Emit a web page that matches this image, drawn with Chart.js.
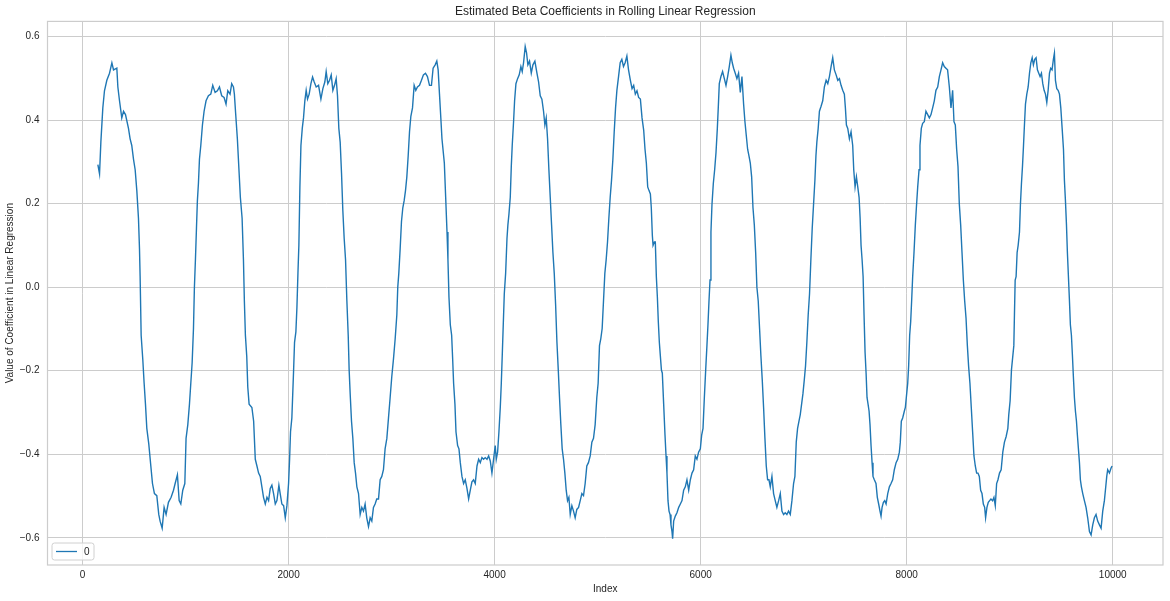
<!DOCTYPE html>
<html>
<head>
<meta charset="utf-8">
<script src="https://cdn.jsdelivr.net/npm/chart.js@4.4.0/dist/chart.umd.min.js"></script>
<style>
  html, body { margin: 0; padding: 0; background: #fff; }
  #wrap { width: 1170px; height: 601px; }
</style>
</head>
<body>
<div id="wrap"><canvas id="beta-chart" width="1170" height="601"></canvas></div>
<script>
// x positions (row index) of the rolling window
const stepIndex = [
  149, 165, 178, 197, 213, 236, 262, 285, 301, 333, 343, 359, 381, 398, 417, 446, 462, 478, 495, 511,
  527, 543, 553, 559, 569, 585, 598, 611, 624, 643, 663, 679, 698, 721, 740, 753, 773, 792, 811, 834,
  860, 883, 899, 921, 938, 954, 973, 993, 1005, 1022, 1038, 1051, 1064, 1077, 1086, 1096, 1106, 1115, 1125, 1135,
  1148, 1164, 1180, 1199, 1222, 1245, 1264, 1287, 1309, 1329, 1351, 1374, 1393, 1410, 1432, 1448, 1465, 1474, 1487, 1503,
  1520, 1532, 1549, 1562, 1571, 1581, 1594, 1604, 1617, 1644, 1661, 1677, 1693, 1709, 1725, 1741, 1757, 1774, 1790, 1806,
  1822, 1838, 1855, 1871, 1887, 1906, 1919, 1935, 1952, 1968, 1984, 2000, 2010, 2019, 2032, 2049, 2058, 2071, 2081, 2091,
  2100, 2110, 2120, 2133, 2145, 2158, 2171, 2184, 2200, 2217, 2233, 2249, 2268, 2291, 2314, 2333, 2352, 2365, 2381, 2398,
  2414, 2430, 2446, 2462, 2475, 2488, 2501, 2514, 2527, 2540, 2553, 2566, 2579, 2588, 2598, 2611, 2624, 2637, 2650, 2663,
  2679, 2695, 2711, 2727, 2743, 2759, 2776, 2792, 2808, 2824, 2840, 2856, 2873, 2889, 2905, 2921, 2937, 2954, 2970, 2986,
  3002, 3018, 3035, 3051, 3060, 3070, 3083, 3096, 3109, 3122, 3135, 3148, 3161, 3174, 3187, 3203, 3219, 3235, 3251, 3271,
  3290, 3309, 3329, 3348, 3368, 3387, 3403, 3423, 3439, 3452, 3465, 3478, 3489, 3512, 3525, 3538, 3547, 3557, 3570, 3583,
  3593, 3602, 3615, 3625, 3641, 3654, 3667, 3683, 3699, 3715, 3732, 3748, 3764, 3780, 3796, 3812, 3829, 3845, 3861, 3877,
  3893, 3909, 3926, 3942, 3958, 3974, 3990, 4006, 4016, 4029, 4042, 4055, 4065, 4074, 4084, 4094, 4107, 4120, 4129, 4139,
  4152, 4162, 4171, 4184, 4194, 4207, 4223, 4239, 4255, 4268, 4281, 4297, 4310, 4323, 4339, 4356, 4372, 4391, 4411, 4427,
  4443, 4459, 4475, 4488, 4501, 4514, 4527, 4540, 4553, 4566, 4579, 4592, 4605, 4618, 4630, 4643, 4656, 4669, 4682, 4695,
  4708, 4721, 4734, 4750, 4766, 4782, 4798, 4815, 4831, 4847, 4863, 4879, 4895, 4911, 4928, 4944, 4960, 4976, 4992, 5005,
  5018, 5031, 5044, 5057, 5070, 5083, 5096, 5109, 5122, 5135, 5148, 5161, 5174, 5187, 5203, 5219, 5235, 5251, 5267, 5284,
  5300, 5318, 5334, 5350, 5366, 5382, 5398, 5415, 5431, 5447, 5460, 5473, 5486, 5499, 5512, 5521, 5531, 5538, 5551, 5560,
  5570, 5580, 5589, 5599, 5609, 5619, 5628, 5641, 5654, 5664, 5673, 5683, 5693, 5703, 5712, 5722, 5728, 5738, 5754, 5770,
  5787, 5803, 5819, 5835, 5851, 5867, 5884, 5900, 5916, 5932, 5948, 5964, 5980, 5997, 6010, 6023, 6036, 6049, 6061, 6071,
  6081, 6091, 6100, 6110, 6123, 6136, 6149, 6162, 6171, 6181, 6197, 6213, 6230, 6246, 6262, 6278, 6294, 6307, 6320, 6336,
  6352, 6368, 6385, 6401, 6417, 6430, 6443, 6456, 6469, 6482, 6495, 6508, 6521, 6534, 6546, 6559, 6572, 6585, 6598, 6611,
  6624, 6637, 6650, 6663, 6676, 6692, 6708, 6724, 6740, 6757, 6773, 6789, 6805, 6821, 6837, 6853, 6870, 6886, 6902, 6915,
  6928, 6941, 6954, 6967, 6980, 6993, 7006, 7018, 7031, 7044, 7057, 7070, 7083, 7096, 7109, 7119, 7128, 7141, 7153, 7169,
  7185, 7201, 7218, 7234, 7250, 7266, 7282, 7298, 7315, 7331, 7347, 7363, 7379, 7395, 7405, 7415, 7428, 7444, 7460, 7476,
  7486, 7499, 7512, 7525, 7538, 7548, 7557, 7567, 7577, 7586, 7596, 7606, 7615, 7625, 7635, 7644, 7654, 7664, 7673, 7686,
  7702, 7715, 7728, 7741, 7751, 7761, 7774, 7787, 7800, 7816, 7832, 7848, 7864, 7880, 7897, 7913, 7929, 7938, 7948, 7961,
  7977, 7987, 8000, 8010, 8019, 8029, 8039, 8048, 8058, 8071, 8084, 8094, 8107, 8120, 8129, 8142, 8155, 8171, 8187, 8204,
  8220, 8236, 8252, 8268, 8284, 8301, 8317, 8333, 8349, 8365, 8381, 8397, 8414, 8430, 8446, 8459, 8472, 8485, 8498, 8511,
  8524, 8537, 8550, 8563, 8576, 8589, 8601, 8614, 8627, 8640, 8653, 8666, 8679, 8692, 8705, 8718, 8731, 8744, 8757, 8766,
  8779, 8792, 8805, 8818, 8834, 8847, 8860, 8873, 8886, 8901, 8917, 8933, 8949, 8965, 8982, 8991, 9004, 9017, 9030, 9040,
  9046, 9053, 9062, 9072, 9082, 9095, 9104, 9114, 9124, 9134, 9143, 9153, 9166, 9179, 9192, 9205, 9218, 9230, 9243, 9256,
  9269, 9282, 9295, 9308, 9321, 9334, 9347, 9360, 9373, 9386, 9398, 9411, 9424, 9434, 9444, 9457, 9470, 9483, 9496, 9509,
  9522, 9531, 9541, 9551, 9560, 9570, 9580, 9589, 9599, 9609, 9618, 9628, 9638, 9648, 9657, 9667, 9677, 9686, 9696, 9709,
  9725, 9741, 9757, 9774, 9790, 9806, 9822, 9838, 9854, 9871, 9887, 9903, 9919, 9929, 9942, 9951, 9968, 9984, 9994
];

// estimated beta coefficient at each of those rows
const betaValues = [
  0.293, 0.271, 0.347, 0.429, 0.470, 0.495, 0.512, 0.537, 0.520, 0.524, 0.479, 0.446, 0.405, 0.421, 0.413, 0.380, 0.355, 0.339, 0.306, 0.281,
  0.231, 0.165, 0.091, 0.026, -0.115, -0.173, -0.230, -0.280, -0.338, -0.375, -0.428, -0.470, -0.494, -0.499, -0.544, -0.560, -0.577, -0.527, -0.544, -0.515,
  -0.503, -0.486, -0.470, -0.449, -0.511, -0.519, -0.486, -0.470, -0.362, -0.329, -0.280, -0.230, -0.181, -0.099, 0.000, 0.066, 0.141, 0.207, 0.248, 0.306,
  0.339, 0.388, 0.421, 0.446, 0.458, 0.462, 0.483, 0.466, 0.470, 0.479, 0.458, 0.454, 0.438, 0.470, 0.462, 0.487, 0.479, 0.462, 0.413, 0.355,
  0.273, 0.215, 0.165, 0.066, -0.033, -0.115, -0.165, -0.239, -0.280, -0.288, -0.321, -0.412, -0.428, -0.445, -0.453, -0.478, -0.503, -0.519, -0.503, -0.511,
  -0.482, -0.474, -0.495, -0.519, -0.511, -0.474, -0.495, -0.519, -0.523, -0.552, -0.523, -0.470, -0.412, -0.346, -0.313, -0.198, -0.132, -0.107, -0.049, 0.033,
  0.100, 0.240, 0.339, 0.380, 0.405, 0.446, 0.471, 0.450, 0.462, 0.487, 0.503, 0.491, 0.479, 0.483, 0.450, 0.475, 0.491, 0.516, 0.487, 0.495,
  0.508, 0.471, 0.483, 0.499, 0.458, 0.380, 0.347, 0.273, 0.182, 0.116, 0.066, -0.033, -0.115, -0.198, -0.255, -0.321, -0.362, -0.420, -0.445, -0.478,
  -0.494, -0.544, -0.527, -0.536, -0.519, -0.552, -0.573, -0.552, -0.560, -0.527, -0.519, -0.507, -0.507, -0.461, -0.453, -0.437, -0.387, -0.362, -0.313, -0.264,
  -0.214, -0.173, -0.123, -0.066, 0.000, 0.033, 0.091, 0.157, 0.190, 0.207, 0.231, 0.264, 0.314, 0.372, 0.409, 0.429, 0.483, 0.471, 0.479, 0.483,
  0.495, 0.508, 0.512, 0.504, 0.483, 0.483, 0.524, 0.532, 0.541, 0.520, 0.462, 0.405, 0.355, 0.297, 0.215, 0.132, 0.066, -0.024, -0.090, -0.115,
  -0.173, -0.230, -0.280, -0.346, -0.379, -0.387, -0.420, -0.453, -0.470, -0.461, -0.482, -0.507, -0.486, -0.466, -0.461, -0.470, -0.428, -0.412, -0.420, -0.408,
  -0.412, -0.408, -0.412, -0.404, -0.416, -0.445, -0.412, -0.379, -0.412, -0.395, -0.346, -0.288, -0.230, -0.165, -0.090, -0.016, 0.033, 0.116, 0.149, 0.174,
  0.215, 0.289, 0.339, 0.396, 0.446, 0.487, 0.499, 0.508, 0.528, 0.516, 0.537, 0.576, 0.561, 0.532, 0.541, 0.512, 0.532, 0.541, 0.512, 0.491,
  0.458, 0.450, 0.421, 0.388, 0.405, 0.355, 0.281, 0.215, 0.149, 0.083, 0.033, -0.041, -0.132, -0.198, -0.264, -0.329, -0.387, -0.412, -0.445, -0.486,
  -0.511, -0.503, -0.544, -0.523, -0.536, -0.552, -0.532, -0.527, -0.511, -0.494, -0.499, -0.470, -0.428, -0.420, -0.404, -0.371, -0.362, -0.329, -0.264, -0.230,
  -0.140, -0.123, -0.099, -0.033, 0.033, 0.066, 0.108, 0.165, 0.215, 0.256, 0.306, 0.372, 0.429, 0.471, 0.504, 0.537, 0.545, 0.528, 0.537, 0.553,
  0.520, 0.495, 0.475, 0.483, 0.462, 0.470, 0.454, 0.450, 0.405, 0.376, 0.330, 0.297, 0.240, 0.231, 0.223, 0.190, 0.124, 0.100, 0.108, 0.108,
  0.025, -0.024, -0.082, -0.132, -0.165, -0.198, -0.206, -0.280, -0.354, -0.404, -0.445, -0.511, -0.536, -0.544, -0.569, -0.585, -0.602, -0.560, -0.548, -0.540,
  -0.527, -0.519, -0.511, -0.486, -0.478, -0.461, -0.486, -0.461, -0.445, -0.437, -0.404, -0.412, -0.395, -0.387, -0.354, -0.338, -0.264, -0.198, -0.140, -0.090,
  -0.033, 0.017, 0.132, 0.198, 0.248, 0.281, 0.322, 0.380, 0.429, 0.487, 0.504, 0.516, 0.499, 0.483, 0.504, 0.528, 0.555, 0.537, 0.524, 0.512,
  0.499, 0.512, 0.466, 0.504, 0.438, 0.396, 0.363, 0.330, 0.314, 0.297, 0.264, 0.190, 0.149, 0.083, 0.000, -0.033, -0.099, -0.165, -0.222, -0.288,
  -0.362, -0.428, -0.461, -0.461, -0.478, -0.453, -0.494, -0.511, -0.527, -0.511, -0.494, -0.536, -0.544, -0.540, -0.544, -0.536, -0.544, -0.511, -0.470, -0.453,
  -0.371, -0.338, -0.321, -0.305, -0.280, -0.255, -0.222, -0.189, -0.132, -0.066, -0.016, 0.066, 0.141, 0.198, 0.256, 0.314, 0.347, 0.380, 0.421, 0.433,
  0.446, 0.479, 0.495, 0.487, 0.504, 0.528, 0.549, 0.520, 0.508, 0.495, 0.499, 0.483, 0.471, 0.462, 0.429, 0.388, 0.380, 0.355, 0.372, 0.339,
  0.281, 0.240, 0.264, 0.240, 0.215, 0.165, 0.100, 0.066, 0.025, -0.066, -0.156, -0.206, -0.264, -0.280, -0.297, -0.329, -0.379, -0.420, -0.453, -0.461,
  -0.470, -0.503, -0.519, -0.536, -0.548, -0.527, -0.515, -0.511, -0.519, -0.494, -0.478, -0.470, -0.461, -0.437, -0.420, -0.412, -0.395, -0.371, -0.321, -0.313,
  -0.297, -0.288, -0.255, -0.230, -0.189, -0.115, -0.082, -0.033, 0.025, 0.083, 0.149, 0.190, 0.240, 0.281, 0.339, 0.380, 0.392, 0.396, 0.421, 0.413,
  0.405, 0.413, 0.429, 0.446, 0.471, 0.479, 0.504, 0.520, 0.537, 0.528, 0.524, 0.520, 0.479, 0.429, 0.471, 0.396, 0.388, 0.330, 0.289, 0.198,
  0.149, 0.083, 0.017, -0.033, -0.074, -0.140, -0.189, -0.230, -0.288, -0.346, -0.404, -0.428, -0.445, -0.445, -0.453, -0.486, -0.494, -0.519, -0.527, -0.552,
  -0.527, -0.515, -0.511, -0.507, -0.511, -0.503, -0.523, -0.470, -0.461, -0.445, -0.437, -0.395, -0.371, -0.358, -0.338, -0.305, -0.272, -0.198, -0.165, -0.140,
  -0.066, 0.017, 0.025, 0.083, 0.100, 0.132, 0.198, 0.248, 0.289, 0.339, 0.388, 0.438, 0.462, 0.479, 0.512, 0.537, 0.549, 0.532, 0.545, 0.549,
  0.520, 0.512, 0.504, 0.512, 0.487, 0.471, 0.462, 0.442, 0.471, 0.512, 0.524, 0.520, 0.545, 0.560, 0.495, 0.475, 0.471, 0.462, 0.429, 0.380,
  0.330, 0.256, 0.207, 0.149, 0.083, 0.025, -0.033, -0.090, -0.115, -0.165, -0.214, -0.264, -0.297, -0.321, -0.354, -0.387, -0.420, -0.461, -0.478, -0.494,
  -0.511, -0.527, -0.552, -0.585, -0.593, -0.569, -0.552, -0.544, -0.560, -0.569, -0.577, -0.536, -0.511, -0.486, -0.453, -0.437, -0.445, -0.433, -0.428
];

const seriesName = '0';
const xTicks = [0, 2000, 4000, 6000, 8000, 10000];
const yTicks = [-0.6, -0.4, -0.2, 0.0, 0.2, 0.4, 0.6];

const textColor = '#262626';
const gridColor = '#cccccc';
const lineColor = '#1f77b4';

Chart.defaults.font.family = "'Liberation Sans', Arial, sans-serif";
Chart.defaults.color = textColor;

// seaborn whitegrid draws a light frame round the whole axes
const framePlugin = {
    id: 'frame',
    beforeDatasetsDraw(chart) {
        const { ctx, chartArea: a } = chart;
        ctx.save();
        ctx.strokeStyle = gridColor;
        ctx.lineWidth = 1.2;
        ctx.strokeRect(a.left, a.top, a.right - a.left, a.bottom - a.top);
        ctx.restore();
    }
};

// matplotlib style legend box in the lower left corner
const cornerLegend = {
    id: 'cornerLegend',
    afterDatasetsDraw(chart) {
        const { ctx, chartArea: a } = chart;
        const ds = chart.data.datasets[0];
        const x = a.left + 4.5, y = a.bottom - 22, w = 42, h = 17;
        ctx.save();
        ctx.beginPath();
        ctx.roundRect(x, y, w, h, 2.5);
        ctx.fillStyle = 'rgba(255,255,255,0.8)';
        ctx.fill();
        ctx.strokeStyle = '#d0d0d0';
        ctx.lineWidth = 1;
        ctx.stroke();
        ctx.beginPath();
        ctx.moveTo(x + 4, y + h / 2);
        ctx.lineTo(x + 25, y + h / 2);
        ctx.strokeStyle = ds.borderColor;
        ctx.lineWidth = 1.3;
        ctx.stroke();
        ctx.fillStyle = textColor;
        ctx.font = "10px 'Liberation Sans', Arial, sans-serif";
        ctx.textBaseline = 'middle';
        ctx.fillText(ds.label, x + 32, y + h / 2 + 0.5);
        ctx.restore();
    }
};

const ctx = document.getElementById('beta-chart').getContext('2d');

new Chart(ctx, {
    type: 'line',
    data: {
        datasets: [{
            label: seriesName,
            data: stepIndex.map((ix, i) => ({ x: ix, y: betaValues[i] })),
            borderColor: lineColor,
            borderWidth: 1.4,
            pointRadius: 0,
            tension: 0,
            fill: false
        }]
    },
    options: {
        responsive: false,
        animation: false,
        devicePixelRatio: 1,
        layout: { padding: { left: 0, right: 7, top: 0, bottom: 0 } },
        plugins: {
            legend: { display: false },
            tooltip: { enabled: false },
            title: {
                display: true,
                fullSize: false,
                text: 'Estimated Beta Coefficients in Rolling Linear Regression',
                color: textColor,
                font: { size: 12, weight: 'normal' },
                padding: { top: 4, bottom: 3 }
            }
        },
        scales: {
            x: {
                type: 'linear',
                min: -340,
                max: 10488,
                afterBuildTicks: (scale) => { scale.ticks = xTicks.map(v => ({ value: v })); },
                afterFit: (scale) => { scale.height = 36; },
                ticks: {
                    padding: 4,
                    maxRotation: 0,
                    autoSkip: false,
                    font: { size: 10 },
                    color: textColor,
                    callback: (v) => String(v)
                },
                grid: { color: gridColor, lineWidth: 1, drawTicks: false },
                border: { display: false },
                title: {
                    display: true,
                    text: 'Index',
                    color: textColor,
                    font: { size: 10 },
                    padding: { top: 0, bottom: 6 }
                }
            },
            y: {
                type: 'linear',
                min: -0.665,
                max: 0.636,
                afterBuildTicks: (scale) => { scale.ticks = yTicks.map(v => ({ value: v })); },
                afterFit: (scale) => { scale.width = 47.5; },
                ticks: {
                    padding: 8,
                    font: { size: 10 },
                    color: textColor,
                    callback: (v) => v.toFixed(1).replace('-', '\u2212')
                },
                grid: { color: gridColor, lineWidth: 1, drawTicks: false },
                border: { display: false },
                title: {
                    display: true,
                    text: 'Value of Coefficient in Linear Regression',
                    color: textColor,
                    font: { size: 10 },
                    padding: { top: 4, bottom: 0 }
                }
            }
        }
    },
    plugins: [framePlugin, cornerLegend]
});
</script>
</body>
</html>
